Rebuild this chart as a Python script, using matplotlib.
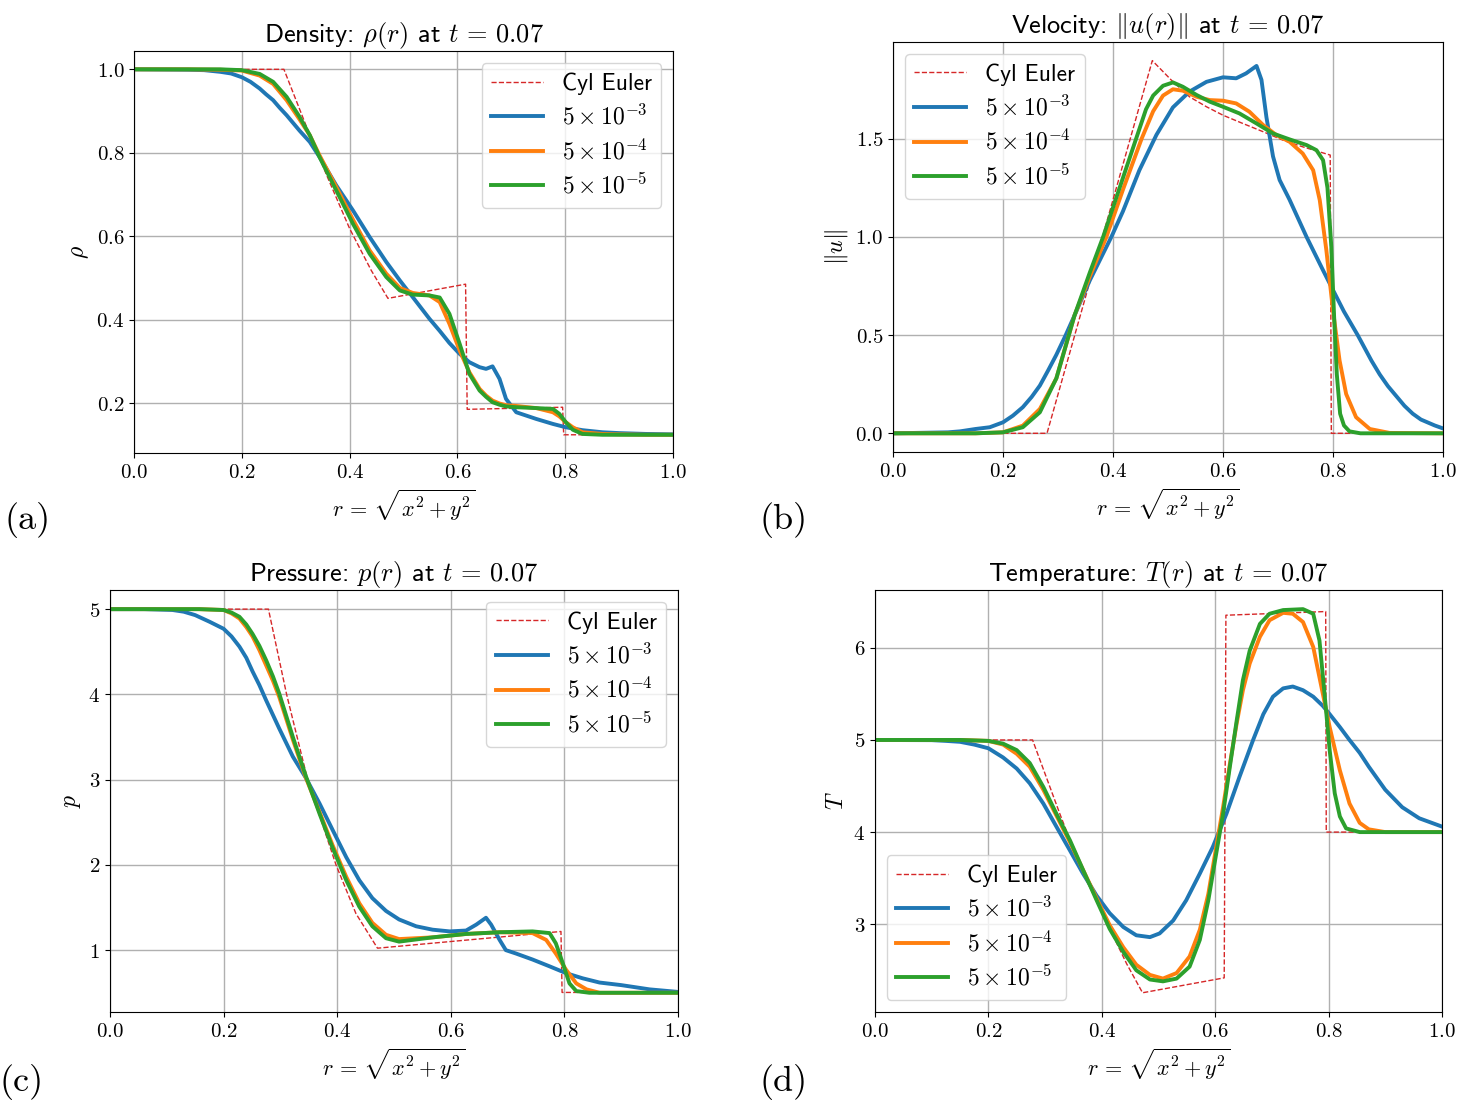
import matplotlib
matplotlib.use("Agg")
import matplotlib.pyplot as plt
from matplotlib.ticker import FuncFormatter, MultipleLocator

plt.rcParams['mathtext.fontset'] = 'cm'
plt.rcParams['font.family'] = ['cmss10', 'DejaVu Sans']
plt.rcParams['axes.formatter.use_mathtext'] = True

labels = ["Cyl Euler", r"$5\times10^{-3}$", r"$5\times10^{-4}$", r"$5\times10^{-5}$"]

# ---- density ----
rho_r_ref = [0.0, 0.278, 0.32, 0.36, 0.40, 0.44, 0.471, 0.615, 0.618, 0.795, 0.797, 1.0]
rho_ref = [1.0, 1.0, 0.862, 0.738, 0.618, 0.518, 0.451, 0.485, 0.185, 0.19, 0.124, 0.124]
rho_r_3 = [0.0, 0.1, 0.13, 0.16, 0.18, 0.2, 0.216, 0.233, 0.245, 0.258, 0.27, 0.283, 0.307,
           0.326, 0.344, 0.375, 0.406, 0.437, 0.468, 0.493, 0.517, 0.548, 0.567, 0.585, 0.604,
           0.622, 0.641, 0.653, 0.665, 0.678, 0.69, 0.709, 0.746, 0.777, 0.789, 0.801, 0.814,
           0.832, 0.869, 0.9, 0.95, 1.0]
rho_3 = [1.0, 0.999, 0.998, 0.994, 0.99, 0.981, 0.97, 0.954, 0.94, 0.926, 0.908, 0.89, 0.853,
         0.826, 0.79, 0.722, 0.662, 0.598, 0.538, 0.494, 0.454, 0.402, 0.373, 0.344, 0.318,
         0.298, 0.286, 0.282, 0.288, 0.258, 0.21, 0.178, 0.162, 0.15, 0.146, 0.142, 0.139,
         0.135, 0.13, 0.128, 0.126, 0.125]
rho_r = [0.0, 0.1, 0.16, 0.2, 0.233, 0.258, 0.283, 0.307, 0.326, 0.344, 0.375, 0.406, 0.437,
         0.468, 0.493, 0.517, 0.548, 0.567, 0.585, 0.604, 0.622, 0.641, 0.653, 0.665, 0.678,
         0.69, 0.709, 0.746, 0.777, 0.789, 0.801, 0.814, 0.832, 0.869, 0.9, 0.95, 1.0]
rho_4 = [1.0, 1.0, 0.999, 0.997, 0.985, 0.965, 0.926, 0.88, 0.842, 0.794, 0.718, 0.64, 0.566,
         0.51, 0.476, 0.464, 0.458, 0.442, 0.39, 0.326, 0.274, 0.234, 0.218, 0.206, 0.199,
         0.195, 0.193, 0.188, 0.178, 0.168, 0.154, 0.142, 0.13, 0.126, 0.125, 0.124, 0.124]
rho_5 = [1.0, 1.0, 1.0, 0.998, 0.989, 0.97, 0.934, 0.886, 0.842, 0.79, 0.71, 0.63, 0.558,
         0.502, 0.47, 0.46, 0.458, 0.453, 0.414, 0.342, 0.27, 0.23, 0.215, 0.202, 0.196,
         0.192, 0.19, 0.188, 0.186, 0.174, 0.154, 0.136, 0.126, 0.124, 0.124, 0.124, 0.124]

# ---- velocity ----
u_r_ref = [0.0, 0.28, 0.4715, 0.506, 0.539, 0.57, 0.6, 0.636, 0.673, 0.709, 0.745, 0.795, 0.797, 1.0]
u_ref = [0.0, 0.0, 1.898, 1.799, 1.714, 1.663, 1.62, 1.578, 1.536, 1.493, 1.459, 1.417, 0.0, 0.0]
u_r_3 = [0.0, 0.1, 0.122, 0.15, 0.176, 0.2, 0.218, 0.236, 0.252, 0.267, 0.282, 0.297, 0.314,
         0.33, 0.358, 0.397, 0.418, 0.448, 0.479, 0.509, 0.539, 0.57, 0.6, 0.624, 0.642, 0.655,
         0.661, 0.67, 0.679, 0.691, 0.703, 0.721, 0.752, 0.782, 0.8, 0.82, 0.845, 0.87, 0.885,
         0.9, 0.915, 0.93, 0.945, 0.96, 0.985, 1.0]
u_3 = [0.0, 0.005, 0.01, 0.022, 0.031, 0.056, 0.09, 0.133, 0.185, 0.243, 0.32, 0.40, 0.50,
       0.6, 0.78, 1.0, 1.13, 1.34, 1.52, 1.66, 1.74, 1.79, 1.813, 1.808, 1.833, 1.859,
       1.871, 1.80, 1.61, 1.41, 1.29, 1.19, 1.0, 0.83, 0.73, 0.62, 0.5, 0.37, 0.30,
       0.24, 0.19, 0.14, 0.10, 0.07, 0.04, 0.025]
u_r_4 = [0.0, 0.15, 0.2, 0.236, 0.267, 0.297, 0.33, 0.358, 0.388, 0.418, 0.452, 0.473, 0.491,
         0.509, 0.527, 0.552, 0.576, 0.6, 0.624, 0.648, 0.673, 0.697, 0.721, 0.745, 0.764,
         0.776, 0.788, 0.8, 0.812, 0.824, 0.842, 0.867, 0.903, 1.0]
u_4 = [0.0, 0.0, 0.005, 0.039, 0.124, 0.28, 0.6, 0.8, 1.0, 1.24, 1.5, 1.64, 1.72,
       1.752, 1.745, 1.714, 1.697, 1.694, 1.68, 1.638, 1.57, 1.519, 1.485, 1.425, 1.34,
       1.187, 0.932, 0.626, 0.371, 0.2, 0.082, 0.022, 0.002, 0.0]
u_r_5 = [0.0, 0.15, 0.2, 0.236, 0.267, 0.297, 0.33, 0.358, 0.382, 0.418, 0.442, 0.46, 0.473,
         0.491, 0.509, 0.527, 0.552, 0.576, 0.6, 0.63, 0.661, 0.691, 0.721, 0.752, 0.77,
         0.782, 0.79, 0.797, 0.802, 0.807, 0.813, 0.82, 0.83, 0.85, 1.0]
u_5 = [0.0, 0.0, 0.005, 0.031, 0.107, 0.28, 0.6, 0.82, 1.0, 1.3, 1.5, 1.65, 1.72,
       1.77, 1.787, 1.765, 1.723, 1.689, 1.663, 1.629, 1.578, 1.527, 1.497, 1.468, 1.442,
       1.391, 1.25, 0.95, 0.6, 0.3, 0.1, 0.04, 0.01, 0.0, 0.0]

# ---- pressure ----
p_r_ref = [0.0, 0.279, 0.311, 0.348, 0.398, 0.433, 0.471, 0.794, 0.796, 1.0]
p_ref = [5.0, 5.0, 4.0, 3.0, 2.0, 1.43, 1.023, 1.219, 0.504, 0.504]
p_r_3 = [0.0, 0.06, 0.11, 0.13, 0.15, 0.176, 0.2, 0.214, 0.228, 0.24, 0.251, 0.263, 0.275,
         0.298, 0.322, 0.345, 0.369, 0.392, 0.416, 0.439, 0.462, 0.486, 0.509, 0.539, 0.568,
         0.598, 0.627, 0.645, 0.662, 0.671, 0.686, 0.697, 0.715, 0.744, 0.774, 0.803, 0.832,
         0.862, 0.9, 0.95, 1.0]
p_3 = [5.0, 5.0, 4.99, 4.97, 4.93, 4.85, 4.77, 4.68, 4.56, 4.43, 4.27, 4.11, 3.93,
       3.6, 3.27, 3.02, 2.72, 2.41, 2.09, 1.82, 1.61, 1.46, 1.36, 1.28, 1.24,
       1.22, 1.23, 1.3, 1.38, 1.3, 1.12, 1.0, 0.96, 0.89, 0.81, 0.73, 0.67,
       0.62, 0.59, 0.54, 0.51]
p_r_4 = [0.0, 0.157, 0.2, 0.214, 0.228, 0.24, 0.251, 0.263, 0.275, 0.287, 0.298, 0.322, 0.345,
         0.369, 0.392, 0.416, 0.439, 0.462, 0.486, 0.509, 0.568, 0.627, 0.686, 0.744, 0.768,
         0.785, 0.803, 0.821, 0.839, 0.862, 1.0]
p_4 = [5.0, 5.0, 4.99, 4.95, 4.89, 4.79, 4.68, 4.52, 4.34, 4.16, 3.97, 3.47, 3.02,
       2.62, 2.23, 1.86, 1.55, 1.32, 1.18, 1.13, 1.15, 1.19, 1.21, 1.2, 1.12,
       0.96, 0.77, 0.61, 0.54, 0.5, 0.5]
p_r_5 = [0.0, 0.157, 0.2, 0.214, 0.228, 0.24, 0.251, 0.263, 0.275, 0.287, 0.298, 0.322, 0.345,
         0.369, 0.392, 0.416, 0.439, 0.462, 0.486, 0.509, 0.568, 0.627, 0.686, 0.744, 0.774,
         0.785, 0.797, 0.809, 0.821, 0.844, 1.0]
p_5 = [5.0, 5.0, 4.99, 4.96, 4.91, 4.82, 4.71, 4.57, 4.4, 4.21, 4.01, 3.5, 3.04,
       2.6, 2.2, 1.82, 1.51, 1.28, 1.14, 1.1, 1.15, 1.19, 1.21, 1.22, 1.2,
       1.08, 0.85, 0.61, 0.52, 0.5, 0.5]

# ---- temperature ----
T_r_ref = [0.0, 0.278, 0.326, 0.353, 0.385, 0.415, 0.444, 0.472, 0.616, 0.619, 0.795, 0.796, 1.0]
T_ref = [5.0, 5.0, 4.2, 3.77, 3.33, 2.94, 2.57, 2.256, 2.418, 6.354, 6.394, 4.0, 4.0]
T_r_3 = [0.0, 0.1, 0.125, 0.15, 0.175, 0.2, 0.226, 0.25, 0.273, 0.297, 0.32, 0.344, 0.367,
         0.391, 0.414, 0.438, 0.461, 0.485, 0.502, 0.526, 0.549, 0.573, 0.596, 0.62, 0.643,
         0.667, 0.685, 0.702, 0.72, 0.737, 0.755, 0.773, 0.79, 0.802, 0.82, 0.837, 0.855,
         0.871, 0.9, 0.93, 0.96, 1.0]
T_3 = [5.0, 4.998, 4.99, 4.98, 4.95, 4.91, 4.81, 4.69, 4.53, 4.31, 4.06, 3.8, 3.55,
       3.31, 3.12, 2.97, 2.88, 2.86, 2.9, 3.04, 3.26, 3.55, 3.84, 4.2, 4.6,
       5.0, 5.28, 5.47, 5.56, 5.58, 5.54, 5.47, 5.37, 5.28, 5.14, 5.0, 4.86,
       4.71, 4.46, 4.27, 4.15, 4.06]
T_r_4 = [0.0, 0.15, 0.2, 0.226, 0.25, 0.273, 0.297, 0.32, 0.344, 0.367, 0.391, 0.414, 0.438,
         0.461, 0.485, 0.508, 0.532, 0.555, 0.573, 0.588, 0.602, 0.614, 0.626, 0.638, 0.649,
         0.661, 0.679, 0.696, 0.72, 0.737, 0.755, 0.773, 0.79, 0.802, 0.82, 0.837, 0.855,
         0.871, 0.9, 1.0]
T_4 = [5.0, 5.0, 4.99, 4.95, 4.85, 4.71, 4.46, 4.18, 3.89, 3.59, 3.28, 2.99, 2.75,
       2.56, 2.45, 2.41, 2.47, 2.65, 2.94, 3.33, 3.84, 4.27, 4.74, 5.18, 5.54,
       5.83, 6.12, 6.3, 6.38, 6.37, 6.28, 6.01, 5.5, 5.14, 4.67, 4.31, 4.1,
       4.03, 4.0, 4.0]
T_r_5 = [0.0, 0.15, 0.2, 0.226, 0.25, 0.273, 0.297, 0.32, 0.344, 0.367, 0.391, 0.414, 0.438,
         0.461, 0.485, 0.508, 0.532, 0.555, 0.573, 0.588, 0.602, 0.614, 0.626, 0.638, 0.649,
         0.661, 0.679, 0.696, 0.72, 0.755, 0.773, 0.784, 0.793, 0.802, 0.811, 0.82, 0.831,
         0.855, 1.0]
T_5 = [5.0, 5.0, 4.99, 4.96, 4.89, 4.75, 4.49, 4.2, 3.91, 3.59, 3.26, 2.95, 2.7,
       2.5, 2.4, 2.38, 2.41, 2.54, 2.83, 3.26, 3.77, 4.2, 4.71, 5.21, 5.65,
       5.97, 6.26, 6.37, 6.41, 6.42, 6.37, 6.08, 5.5, 4.89, 4.42, 4.17, 4.04,
       4.0, 4.0]

panels = [
    ("(a)", [0.0912, 0.590, 0.3667, 0.3638], r"Density: $\rho(r)$ at $t\,=\,0.07$", r"$\rho$",
     (rho_r_ref, rho_ref), [(rho_r_3, rho_3), (rho_r, rho_4), (rho_r, rho_5)], "upper right", "{:.1f}", 0.2),
    ("(b)", [0.6075, 0.591, 0.3741, 0.3710], r"Velocity: $\Vert u(r)\Vert$ at $t\,=\,0.07$", r"$\Vert u\Vert$",
     (u_r_ref, u_ref), [(u_r_3, u_3), (u_r_4, u_4), (u_r_5, u_5)], "upper left", "{:.1f}", 0.5),
    ("(c)", [0.0748, 0.0842, 0.3864, 0.3819], r"Pressure: $p(r)$ at $t\,=\,0.07$", r"$p$",
     (p_r_ref, p_ref), [(p_r_3, p_3), (p_r_4, p_4), (p_r_5, p_5)], "upper right", "{:.0f}", 1.0),
    ("(d)", [0.5952, 0.0842, 0.3857, 0.3819], r"Temperature: $T(r)$ at $t\,=\,0.07$", r"$T$",
     (T_r_ref, T_ref), [(T_r_3, T_3), (T_r_4, T_4), (T_r_5, T_5)], "lower left", "{:.0f}", 1.0),
]
colors = ["#1f77b4", "#ff7f0e", "#2ca02c"]
tag_pos = [(0.019, 0.529), (0.533, 0.529), (0.015, 0.021), (0.533, 0.021)]

fig = plt.figure(figsize=(14.7, 11.05), dpi=100)
for (tag, pos, title, ylab, ref, runs, loc, fmt, ystep), tp in zip(panels, tag_pos):
    ax = fig.add_axes(pos)
    ax.plot(ref[0], ref[1], "--", color="#d62728", lw=1.0, label=labels[0])
    for (rr, vv), c, lab in zip(runs, colors, labels[1:]):
        ax.plot(rr, vv, "-", color=c, lw=2.8, label=lab, solid_joinstyle="round")
    ax.set_xlim(0, 1)
    ax.set_xticks([0, 0.2, 0.4, 0.6, 0.8, 1.0])
    ax.yaxis.set_major_locator(MultipleLocator(ystep))
    ax.xaxis.set_major_formatter(FuncFormatter(lambda v, p: "$%.1f$" % v))
    ax.yaxis.set_major_formatter(FuncFormatter(lambda v, p, f=fmt: "$" + f.format(v) + "$"))
    ax.tick_params(labelsize=15)
    ax.grid(True, color="#b0b0b0", lw=1.0)
    ax.set_title(title, fontsize=19)
    ax.set_xlabel(r"$r\,=\,\sqrt{x^2+y^2}$", fontsize=16)
    ax.set_ylabel(ylab, fontsize=17)
    ax.legend(loc=loc, fontsize=17, handlelength=2.2, labelspacing=0.4)
    fig.text(tp[0], tp[1], tag, fontsize=26, fontfamily="cmr10", ha="center", va="center")

fig.savefig("out.png", dpi=100)
